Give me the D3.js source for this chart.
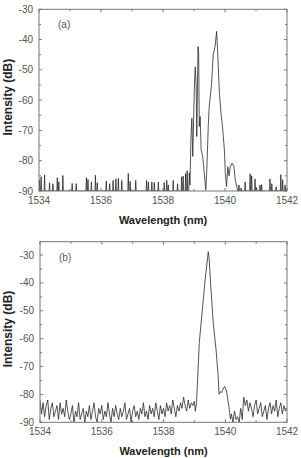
<!DOCTYPE html>
<html>
<head>
<meta charset="utf-8">
<script src="https://cdn.jsdelivr.net/npm/d3@7"></script>
<style>
  body { margin: 0; background: #fff; }
  svg text { font-family: "Liberation Sans", Arial, sans-serif; }
</style>
</head>
<body>
<svg id="chart" width="301" height="458"></svg>
<script>
// ---- data ----
// panel (a): main double-peak trace (nm, dB)
var aPeakWave = [1538.83,1538.85,1538.87,1538.90,1538.93,1538.96,1539.01,1539.04,1539.07,1539.09,
  1539.13,1539.15,1539.17,1539.20,1539.23,1539.28,1539.33,1539.38,1539.41,1539.46,
  1539.49,1539.56,1539.62,1539.68,1539.73,1539.76,1539.82,1539.88,1539.92,1539.98,
  1540.01,1540.05,1540.09,1540.13,1540.17,1540.23,1540.29,1540.33,1540.38,1540.41]
var aPeakInt = [-90,-84,-88,-73,-66,-78.6,-56.6,-49,-55.5,-72,
  -42.3,-44.5,-68.7,-65.4,-76.4,-78.6,-84,-89.6,-84,-68.7,
  -62.1,-55.5,-45,-42.3,-37.3,-43.4,-57.7,-65.4,-68.7,-76.4,
  -84,-88.5,-82,-85,-82,-80.8,-82,-86.3,-88.5,-90]
// panel (a): noise spikes sitting on the -90 dB floor
var aSpikeWave = [1534.02,1534.07,1534.18,1534.34,1534.45,1534.59,1534.64,1534.77,1535.07,1535.20,
  1535.53,1535.58,1535.69,1535.82,1535.88,1536.17,1536.28,1536.39,1536.48,1536.56,
  1536.67,1536.88,1536.94,1537.12,1537.47,1537.53,1537.64,1537.72,1537.85,1538.04,
  1538.12,1538.17,1538.33,1538.47,1538.60,1538.65,1538.73,1538.78,
  1540.45,1540.52,1540.65,1540.81,1540.86,1540.97,1541.02,1541.13,1541.18,1541.45,
  1541.51,1541.65,1541.80,1541.86,1541.94]
var aSpikeInt = [-86.4,-85.3,-84.7,-87.3,-87.6,-85.6,-87,-84.9,-87.5,-87.6,
  -85.6,-86.2,-87,-84.8,-87.3,-86.7,-87.6,-86.5,-86,-85.8,
  -86.5,-84.2,-86.8,-86.5,-86.5,-87,-87,-87.2,-87,-87.2,
  -86.5,-88,-86.5,-87.6,-85.3,-85.1,-84.2,-83.3,
  -88,-89,-87,-84.3,-85,-86,-88.9,-88,-87.9,-86,
  -87.6,-88.6,-84.6,-86.3,-88]

// panel (b): noise floor left of the line, sampled every 0.05 nm from 1534.00
var bLeftInt = [-82,-87,-83,-88,-84,-82,-89,-85,-83,-88,
  -86,-84,-89,-83,-87,-85,-88,-82,-86,-89,
  -87,-84,-90,-86,-88,-83,-89,-87,-85,-90,
  -86,-88,-84,-89,-86,-83,-88,-90,-85,-87,
  -84,-89,-86,-88,-83,-87,-90,-85,-88,-84,
  -87,-89,-85,-88,-86,-83,-89,-87,-85,-90,
  -86,-84,-88,-86,-89,-85,-87,-83,-88,-86,
  -89,-84,-87,-85,-88,-83,-86,-89,-84,-87,
  -85,-88,-83,-86,-84,-87,-82,-85,-88,-84,
  -86,-83,-85,-81,-84,-86,-82,-85,-83]
// panel (b): the lasing line
var bPeakWave = [1538.95,1539.00,1539.03,1539.07,1539.16,1539.27,1539.35,1539.40,1539.45,1539.48,
  1539.53,1539.61,1539.70,1539.77,1539.80,1539.84,1539.88,1539.93,1539.98,1540.04,
  1540.08,1540.13,1540.17]
var bPeakInt = [-84,-82.5,-86,-83,-61.3,-48.2,-38.6,-33.8,-28.8,-31.4,
  -41,-54.2,-63.7,-73.3,-79.9,-79,-79.3,-78.1,-77.1,-78.7,
  -81.7,-85.3,-88.9]
// panel (b): noise floor right of the line, every 0.05 nm from 1540.20
var bRightInt = [-87,-90,-86,-89,-88,-90,-85,-89,
  -81,-84,-82,-86,-83,-85,-88,-84,-82,-87,-85,-83,-88,-86,-84,
  -89,-85,-83,-87,-84,-86,-82,-88,-85,-83,-87,-84,-86,-85]

var xTicks = [1534, 1536, 1538, 1540, 1542]
var yTicks = [-30, -40, -50, -60, -70, -80, -90]

// ---- build series ----
var seriesA = []
aSpikeWave.forEach((w, i) => {
  seriesA.push({w: w - 0.015, v: -90}, {w: w, v: aSpikeInt[i]}, {w: w + 0.015, v: -90})
})
aPeakWave.forEach((w, i) => seriesA.push({w: w, v: aPeakInt[i]}))
seriesA.sort((p, q) => p.w - q.w)
seriesA.unshift({w: 1534, v: -90})
seriesA.push({w: 1542, v: -90})

var seriesB = []
bLeftInt.forEach((v, i) => seriesB.push({w: 1534 + i * 0.05, v: v}))
bPeakWave.forEach((w, i) => seriesB.push({w: w, v: bPeakInt[i]}))
bRightInt.forEach((v, i) => seriesB.push({w: 1540.2 + i * 0.05, v: v}))

var svg = d3.select("#chart")

function drawPanel(cfg){
  var x = d3.scaleLinear().domain([1534, 1542]).range([cfg.left, cfg.right])
  var y = d3.scaleLinear().domain(cfg.yDomain).range([cfg.bottom, cfg.top])
  var g = svg.append("g")

  // trace, clipped to frame
  var clipId = "clip" + cfg.name
  svg.append("clipPath").attr("id", clipId)
    .append("rect").attr("x", cfg.left).attr("y", cfg.top)
    .attr("width", cfg.right - cfg.left).attr("height", cfg.bottom - cfg.top)
  g.append("path")
    .datum(cfg.series)
    .attr("clip-path", "url(#" + clipId + ")")
    .attr("d", d3.line().x(d => x(d.w)).y(d => y(d.v)))
    .style("fill", "none")
    .style("stroke", "#2a2a2a")
    .style("stroke-width", 0.8)

  // inward ticks on all four sides
  var tickCol = "#777"
  d3.range(1534, 1542.01, 1).forEach(t => {
    var len = (t % 2 === 0) ? 3 : 2
    g.append("line").attr("x1", x(t)).attr("x2", x(t)).attr("y1", cfg.bottom).attr("y2", cfg.bottom - len).style("stroke", tickCol)
    g.append("line").attr("x1", x(t)).attr("x2", x(t)).attr("y1", cfg.top).attr("y2", cfg.top + len).style("stroke", tickCol)
  })
  d3.range(-90, cfg.yDomain[1] + 0.01, 5).forEach(t => {
    var len = (t % 10 === 0) ? 3 : 2
    g.append("line").attr("y1", y(t)).attr("y2", y(t)).attr("x1", cfg.left).attr("x2", cfg.left + len).style("stroke", tickCol)
    g.append("line").attr("y1", y(t)).attr("y2", y(t)).attr("x1", cfg.right).attr("x2", cfg.right - len).style("stroke", tickCol)
  })

  // frame
  g.append("rect")
    .attr("x", cfg.left).attr("y", cfg.top)
    .attr("width", cfg.right - cfg.left).attr("height", cfg.bottom - cfg.top)
    .style("fill", "none").style("stroke", "#777").style("stroke-width", 1)

  // tick labels
  g.selectAll("text.xt").data(xTicks).enter().append("text")
    .attr("class", "xt")
    .attr("x", d => x(d)).attr("y", cfg.bottom + 13)
    .style("text-anchor", "middle").style("font-size", "10px").style("fill", "#555")
    .text(d => d)
  g.selectAll("text.yt").data(yTicks).enter().append("text")
    .attr("class", "yt")
    .attr("x", cfg.left - 6).attr("y", d => y(d) + 3.5)
    .style("text-anchor", "end").style("font-size", "10px").style("fill", "#555")
    .text(d => d)

  // titles
  g.append("text")
    .attr("x", (cfg.left + cfg.right) / 2).attr("y", cfg.bottom + 33)
    .style("text-anchor", "middle").style("font-size", "11px").style("font-weight", "bold").style("fill", "#222")
    .text("Wavelength (nm)")
  g.append("text")
    .attr("transform", "translate(12," + ((cfg.top + cfg.bottom) / 2 - 3) + ") rotate(-90)")
    .style("text-anchor", "middle").style("font-size", "12px").style("font-weight", "bold").style("fill", "#222")
    .text("Intensity (dB)")

  // panel tag
  g.append("text")
    .attr("x", cfg.left + 19).attr("y", cfg.top + 19)
    .style("font-size", "10px").style("fill", "#555")
    .text(cfg.tag)
}

drawPanel({name: "a", tag: "(a)", series: seriesA, left: 39, right: 287, top: 9.3, bottom: 191, yDomain: [-90, -30]})
drawPanel({name: "b", tag: "(b)", series: seriesB, left: 40, right: 287, top: 241.7, bottom: 422.3, yDomain: [-90, -25.2]})
</script>
</body>
</html>
